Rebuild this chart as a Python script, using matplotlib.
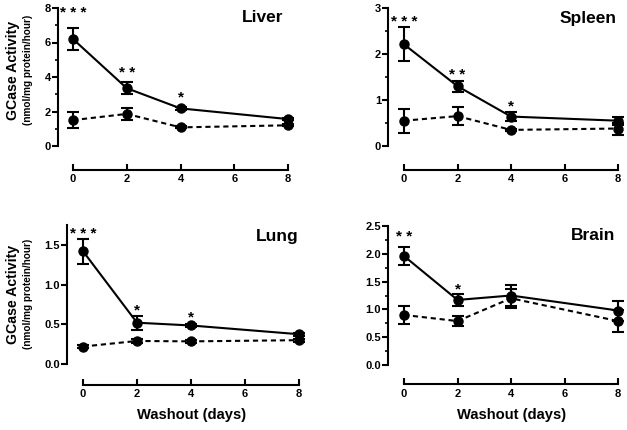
import matplotlib
matplotlib.use("Agg")
import matplotlib.pyplot as plt
from matplotlib.ticker import MultipleLocator, NullLocator

plt.rcParams['font.family'] = ['Liberation Sans', 'DejaVu Sans']
plt.rcParams['font.weight'] = 'bold'

days = [0, 2, 4, 8]

liver_treated = [6.2, 3.35, 2.18, 1.56]
liver_treated_err = [0.64, 0.35, 0.08, 0.08]
liver_control = [1.5, 1.86, 1.08, 1.2]
liver_control_err = [0.45, 0.33, 0.06, 0.06]

spleen_treated = [2.21, 1.30, 0.64, 0.55]
spleen_treated_err = [0.37, 0.12, 0.10, 0.09]
spleen_control = [0.55, 0.65, 0.35, 0.38]
spleen_control_err = [0.26, 0.19, 0.03, 0.13]

lung_treated = [1.42, 0.52, 0.485, 0.375]
lung_treated_err = [0.16, 0.09, 0.02, 0.02]
lung_control = [0.22, 0.29, 0.285, 0.30]
lung_control_err = [0.02, 0.02, 0.02, 0.02]

brain_treated = [1.96, 1.17, 1.25, 0.98]
brain_treated_err = [0.16, 0.10, 0.18, 0.18]
brain_control = [0.90, 0.79, 1.20, 0.79]
brain_control_err = [0.17, 0.09, 0.17, 0.20]

liver_stars = [("* * *", 0, 8.0), ("* *", 2, 4.5), ("*", 4, 3.1)]
spleen_stars = [("* * *", 0, 2.8), ("* *", 2, 1.65), ("*", 4, 0.96)]
lung_stars = [("* * *", 0, 1.70), ("*", 2, 0.74), ("*", 4, 0.65)]
brain_stars = [("* *", 0, 2.38), ("*", 2, 1.45)]

W, H = 627, 430
fig = plt.figure(figsize=(W / 100, H / 100), dpi=100)


def make_ax(left_px, x0_px, x8_px, top_px, bottom_px, axis_px):
    ppu = (x8_px - x0_px) / 8.0
    xmin = -(x0_px - left_px) / ppu
    right_px = x8_px + 0.35 * ppu
    xmax = 8 + 0.35
    ax = fig.add_axes([left_px / W, 1 - bottom_px / H,
                       (right_px - left_px) / W, (bottom_px - top_px) / H])
    ax.set_xlim(xmin, xmax)
    ax.spines['top'].set_visible(False)
    ax.spines['right'].set_visible(False)
    ax.spines['bottom'].set_position(('outward', axis_px - bottom_px))
    ax.spines['bottom'].set_bounds(0, 8)
    for s in ('left', 'bottom'):
        ax.spines[s].set_linewidth(1.5)
    ax.set_xticks([0, 2, 4, 6, 8])
    ax.tick_params(axis='x', direction='in', length=4, width=1.5,
                   labelsize=8, pad=3)
    ax.tick_params(axis='y', which='major', direction='out', length=4,
                   width=1.5, labelsize=8, pad=1)
    ax.tick_params(axis='y', which='minor', direction='out', length=2.5,
                   width=1.2)
    ax.patch.set_visible(False)
    return ax


def draw(ax, t, te, c, ce, stars, ymax, major, minor, fmt, title, title_xy):
    ax.set_ylim(0, ymax)
    ax.spines['left'].set_bounds(0, ymax)
    ax.yaxis.set_major_locator(MultipleLocator(major))
    if minor:
        ax.yaxis.set_minor_locator(MultipleLocator(minor))
    else:
        ax.yaxis.set_minor_locator(NullLocator())
    ax.yaxis.set_major_formatter(plt.FormatStrFormatter(fmt))
    ax.errorbar(days, t, yerr=te, color='black', lw=1.5, marker='o', ms=6.5,
                capsize=4, capthick=1.5, elinewidth=1.5, clip_on=False, zorder=3)
    ax.errorbar(days, c, yerr=ce, color='black', lw=1.5, ls=(0, (2.5, 1.8)),
                marker='o', ms=6.5, capsize=4, capthick=1.5, elinewidth=1.5,
                clip_on=False, zorder=3)
    for s, x, y in stars:
        ax.annotate(s, (x, y), xytext=(0, -6.3), textcoords='offset points',
                    ha='center', va='baseline', fontsize=11, annotation_clip=False)
    fig.text(title_xy[0] / W, 1 - title_xy[1] / H, title, fontsize=12.5,
             fontweight='bold', ha='center', va='center')


ax1 = make_ax(58, 73, 288, 8, 146, 163)
draw(ax1, liver_treated, liver_treated_err, liver_control, liver_control_err,
     liver_stars, 8, 2, 1, '%d', 'Liver', (263, 18))

ax2 = make_ax(388, 404, 618, 8, 146, 163)
draw(ax2, spleen_treated, spleen_treated_err, spleen_control, spleen_control_err,
     spleen_stars, 3, 1, 0.5, '%d', 'Spleen', (588, 18))

ax3 = make_ax(67, 83, 299, 225, 364, 379)
draw(ax3, lung_treated, lung_treated_err, lung_control, lung_control_err,
     lung_stars, 1.75, 0.5, None, '%.1f', 'Lung', (277, 236))

ax4 = make_ax(388, 404, 618, 226, 365, 379)
draw(ax4, brain_treated, brain_treated_err, brain_control, brain_control_err,
     brain_stars, 2.5, 0.5, 0.25, '%.1f', 'Brain', (593, 236))

for yc in (70, 294):
    fig.text(13 / W, 1 - yc / H, 'GCase Activity', rotation=90, fontsize=10.2,
             fontweight='bold', ha='center', va='center')
    fig.text(28 / W, 1 - yc / H, '(nmol/mg protein/hour)', rotation=90,
             fontsize=7.2, fontweight='bold', ha='center', va='center')

for xc in (192, 512):
    fig.text(xc / W, 1 - 415 / H, 'Washout (days)', fontsize=10.6,
             fontweight='bold', ha='center', va='center')

fig.savefig('out.png', dpi=100)
